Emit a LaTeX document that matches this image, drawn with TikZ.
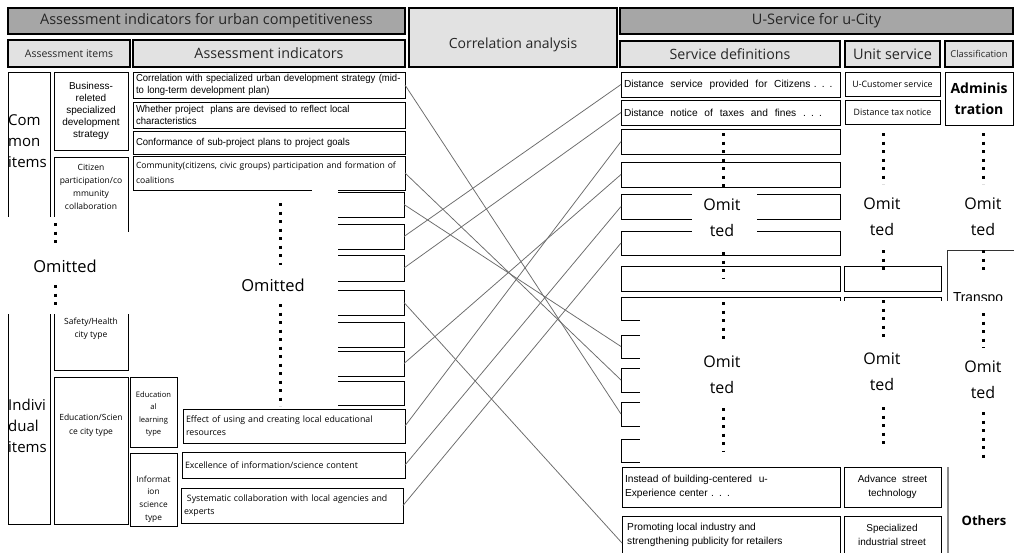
\documentclass[tikz,border=0pt]{standalone}
\usepackage{fontspec}
\setmainfont{Open Sans}
\newfontfamily\nar[FakeStretch=0.95]{Liberation Sans}
\newfontfamily\ars{Liberation Sans}
\usetikzlibrary{calc}
\definecolor{hdrgray}{HTML}{A6A6A6}
\definecolor{subgray}{HTML}{E2E2E2}
\definecolor{lnk}{HTML}{6A6A6A}
\newcommand\fsz[2]{\fontsize{#1}{#2}\selectfont}
\begin{document}
\begin{tikzpicture}[x=1pt,y=-1pt,
  R/.style n args={4}{at={(#1,#2)},minimum width=#3,minimum height=#4},
  bx/.style={draw=black,line width=1pt,anchor=north west,inner xsep=3pt,inner ysep=1pt,outer sep=0pt},
  hdr/.style={bx,fill=hdrgray,line width=1.8pt,text=black!85},
  sub/.style={bx,fill=subgray,line width=1.8pt,text=black!85},
  nt/.style={bx,align=left,font=\nar\fsz{10}{11.5}},
  mt/.style={bx,align=left,font=\fsz{8.8}{13}},
  st/.style={bx,align=left,font=\ars\fsz{10.2}{14.5}},
  ov/.style={fill=white,draw=none},
  dots/.style={line width=3pt,dash pattern=on 3pt off 5.5pt},
  om/.style={inner sep=0pt,align=center,font=\fsz{16}{26}},
  conn/.style={draw=lnk,line width=0.75pt},
]
\useasboundingbox (0,0) rectangle (1014,552);
\clip (0,0) rectangle (1014,552);
\fill[white] (0,0) rectangle (1014,552);

% ---------- headers ----------
\node[hdr,R={8}{8}{397}{26},font=\fsz{14.5}{16}] (h1) {Assessment indicators for urban competitiveness};
\node[sub,R={409}{8}{208}{59}] (h2) {};
\node[font=\fsz{14}{15},text=black!85,inner sep=0pt] (h2t) at (513,45) {Correlation analysis};
\node[hdr,R={620}{8}{393}{26},font=\fsz{14.5}{15}] (h3) {U-Service for u-City};
\node[sub,R={8}{40}{122}{27},font=\fsz{10.5}{12}] (s1) {Assessment items};
\node[sub,R={133}{40}{272}{27},font=\fsz{14.3}{16}] (s2) {Assessment indicators};
\node[sub,R={620}{41}{220}{26},font=\fsz{14.2}{15}] (s3) {Service definitions};
\node[sub,R={845}{41}{95}{26},font=\fsz{14.5}{15},inner xsep=1pt] (s4) {Unit service};
\node[sub,R={945}{41}{68}{26},font=\fsz{9.4}{10},inner xsep=0pt] (s5) {\raisebox{-2pt}{Classification}};

% ---------- left columns ----------
\node[bx,R={8}{72}{42}{190}] (c1) {};
\node[bx,R={8}{262}{42}{262}] (c2) {};
\node[anchor=west,inner sep=0pt,align=left,font=\fsz{15}{21}] (c1t) at (8,141) {Com\\mon\\items};
\node[anchor=west,inner sep=0pt,align=left,font=\fsz{15}{21}] (c2t) at (8,426) {Indivi\\dual\\items};

\node[bx,R={54}{72}{74}{78},align=center,inner xsep=0pt,font=\ars\fsz{10}{12}] (b1) {Business-\\releted\\specialized\\development\\strategy};
\node[bx,R={54}{157}{74}{90}] (b2) {};
\node[align=center,inner sep=0pt,font=\fsz{8.5}{13}] (b2t) at (91,187) {Citizen\\participation/co\\mmunity\\collaboration};
\node[bx,R={54}{250}{74}{120}] (b3) {};
\node[bx,R={54}{377}{74}{147}] (b4) {};
\node[align=center,inner sep=0pt,font=\fsz{8.5}{14}] (b4t) at (91,425) {Education/Scien\\ce city type};
\node[bx,R={130}{453}{47}{73}] (b6) {};
\node[align=center,inner sep=0pt,font=\fsz{8.3}{12.7}] (b6t) at (153.5,499) {Informat\\ion\\science\\type};

% ---------- indicators ----------
\node[nt,R={133}{72}{272}{26},text width=266] (i1) {Correlation with specialized urban development strategy (mid-\\to long-term development plan)};
\node[nt,R={133}{102}{272}{26},text width=266] (i2) {Whether project\ \ plans are devised to reflect local\\characteristics};
\node[nt,R={133}{131}{272}{23},text width=266] (i3) {Conformance of sub-project plans to project goals};
\node[mt,R={133}{156}{272}{34},text width=266,font=\fsz{8.6}{15}] (i4) {Community(citizens, civic groups) participation and formation of\\coalitions};
\node[bx,R={133}{192}{271}{25}] (i5) {};
\node[bx,R={133}{224}{271}{25}] (i6) {};
\node[bx,R={133}{255}{271}{26}] (i7) {};
\node[bx,R={133}{290}{271}{25}] (i8) {};
\node[bx,R={133}{322}{271}{25}] (i9) {};
\node[bx,R={133}{351}{271}{25}] (i10) {};
\node[bx,R={133}{381}{271}{24}] (i11) {};
\node[mt,R={183}{409}{222}{34},text width=216] (i12) {Effect of using and creating local educational\\resources};
\node[mt,R={182}{452}{223}{26},text width=217] (i13) {Excellence of information/science content};
\node[mt,R={181}{488}{222}{35},text width=216] (i14) {\ Systematic collaboration with local agencies and\\experts};

% ---------- service definitions ----------
\node[st,R={621}{72}{219}{25},text width=213] (r1) {Distance\ \ service\ \ provided\ \ for\ \ Citizens . . .};
\node[st,R={621}{100}{219}{25},text width=213] (r2) {Distance\ \ notice\ \ of\ \ taxes\ \ and\ \ fines\ \ . . .};
\node[bx,R={621}{129}{219}{25}] (r3) {};
\node[bx,R={621}{162}{219}{25}] (r4) {};
\node[bx,R={621}{194}{219}{25}] (r5) {};
\node[bx,R={621}{231}{219}{24}] (r6) {};
\node[bx,R={621}{266}{219}{25}] (r7) {};
\node[bx,R={621}{297}{219}{23}] (r8) {};
\node[bx,R={621}{335}{219}{23}] (r9) {};
\node[bx,R={621}{368}{219}{24}] (r10) {};
\node[bx,R={621}{402}{219}{24}] (r11) {};
\node[bx,R={621}{439}{219}{23}] (r12) {};
\node[st,R={622}{467}{218}{40},text width=212] (r13) {Instead of building-centered\ \ u-\\Experience center . . .};
\node[bx,R={622}{516}{218}{54}] (r14) {};
\node[anchor=north west,inner sep=0pt,align=left,font=\ars\fsz{10.2}{13.5}] (r14t) at (627,523) {Promoting local industry and\\strengthening publicity for retailers};

% ---------- unit service ----------
\node[bx,R={845}{72}{95}{24},font=\fsz{8.8}{10},inner xsep=0pt] (u1) {U-Customer service};
\node[bx,R={845}{100}{95}{24},font=\fsz{8.8}{10},inner xsep=0pt] (u2) {Distance tax notice};
\node[bx,R={844}{266}{97}{25}] (u3) {};
\node[bx,R={844}{297}{97}{23}] (u4) {};
\node[bx,R={844}{467}{97}{40},align=center,font=\ars\fsz{10}{14.5}] (u5) {Advance\ \ street\\technology};
\node[bx,R={844}{516}{97}{54}] (u6) {};
\node[align=center,inner sep=0pt,font=\ars\fsz{10}{14.5}] (u6t) at (892,535) {Specialized\\industrial street};

% ---------- classification ----------
\node[bx,R={945}{72}{68}{53},align=center,inner xsep=0pt,font=\bfseries\fsz{14}{21}] (k1) {Adminis\\tration};
\node[bx,R={947}{250}{80}{60},line width=0.8pt,draw=black!80] (k2) {};
\node[inner sep=0pt,font=\nar\fsz{14.5}{15}] (k2t) at (978,299) {Transpo};
\coordinate (k3a) at (948,467);
\coordinate (k3b) at (948,560);
\draw[draw=black!45,line width=1.2pt] (k3a) -- (k3b);
\node[inner sep=0pt,font=\bfseries\fsz{13}{15}] (k3t) at (984,521) {Others};

% ---------- white "omitted" covers ----------
\fill[ov] (4,217) rectangle (127,311);
\fill[ov] (4,232) rectangle (132,314);
\fill[ov] (131,192) rectangle (338,407);
\fill[ov] (312,188) rectangle (338,193);
\fill[ov] (692,189) rectangle (757,236);
\fill[ov] (640,301) rectangle (1014,464);

\node[align=center,inner sep=0pt,font=\fsz{8.5}{13}] (b3t) at (91,329) {Safety/Health\\city type};
\node[bx,R={130}{377}{47}{70}] (b5) {};
\node[align=center,inner sep=0pt,font=\fsz{7.6}{12.6}] (b5t) at (153.5,414) {Education\\al\\learning\\type};

% ---------- dotted ellipses and "Omitted" ----------
\node[om,font=\fsz{16.5}{26}] (om1) at (65,266) {Omitted};
\draw[dots] (55,223) -- (55,248);
\draw[dots] (55,285) -- (55,310);
\node[om,font=\fsz{16.5}{26}] (om2) at (273,285) {Omitted};
\draw[dots] (280,203) -- (280,265);
\draw[dots] (280,304) -- (280,406);

\draw[dots] (723,133) -- (723,187);
\node[om] (om3) at (722,218) {Omit\\ted};
\draw[dots] (723,252) -- (723,278);
\draw[dots] (723,302) -- (723,344);
\node[om] (om4) at (722,375) {Omit\\ted};
\draw[dots] (723,408) -- (723,452);

\draw[dots] (883,133) -- (883,184);
\node[om] (om5) at (882,217) {Omit\\ted};
\draw[dots] (883,250) -- (883,272);
\draw[dots] (883,300) -- (883,341);
\node[om] (om6) at (882,372) {Omit\\ted};
\draw[dots] (883,407) -- (883,449);

\draw[dots] (983,133) -- (983,184);
\node[om] (om7) at (983,217) {Omit\\ted};
\draw[dots] (983,250) -- (983,273);
\draw[dots] (983,313) -- (983,348);
\node[om] (om8) at (983,380) {Omit\\ted};
\draw[dots] (983,412) -- (983,462);

% ---------- correlation connectors ----------
\draw[conn] (i1.east) -- (r11.west);
\draw[conn] (i4.east) -- (r10.west);
\draw[conn] (i5.east) -- (r9.west);
\draw[conn] (i6.east) -- (r1.west);
\draw[conn] (i7.east) -- (r2.west);
\draw[conn] (i8.east) -- (r14.west);
\draw[conn] (i10.east) -- (r4.west);
\draw[conn] (i12.east) -- (r3.west);
\draw[conn] (i13.east) -- (r5.west);
\draw[conn] (i14.east) -- (r6.west);
\end{tikzpicture}
\end{document}
